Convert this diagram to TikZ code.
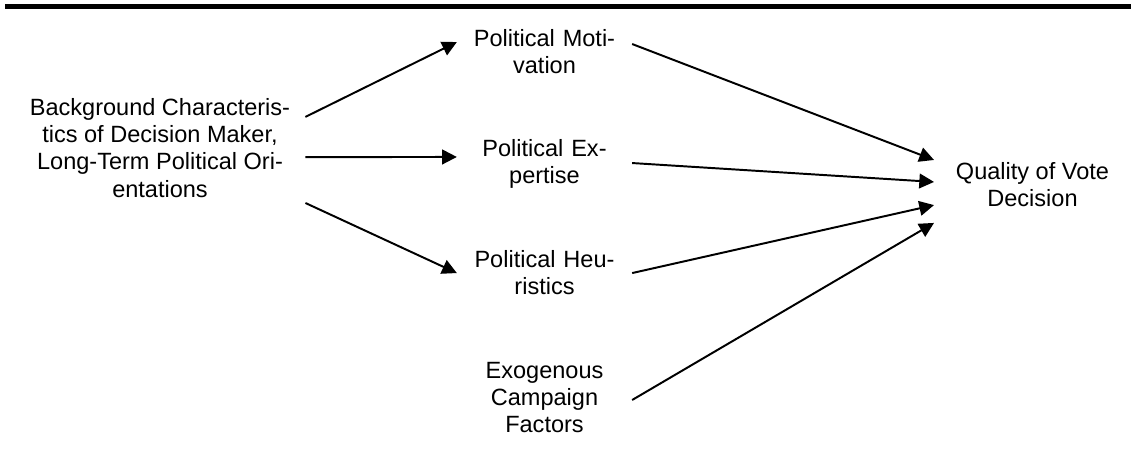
\documentclass[tikz,border=0pt]{standalone}
\usepackage{fontspec}
\setmainfont{Liberation Sans}
\usetikzlibrary{arrows.meta}

\tikzset{
  box/.style={align=center, inner ysep=0pt, font=\fontsize{12pt}{13.8pt}\selectfont,
    execute at begin node=\strut, execute at end node=\strut},
  midbox/.style={box, text width=89pt, inner xsep=0pt},
  arr/.style={-{Triangle[length=7.5pt,width=7.5pt]}, line width=1pt}
}

\begin{document}
\begin{tikzpicture}[x=0.51pt, y=-0.51pt]
        \useasboundingbox (0,0) rectangle (1135,455);

        % Thick rule below the (cut off) caption
        \draw[line width=2.55pt] (5,6.5) -- (1131,6.5);

        % The boxes of the model
        \node[box, inner xsep=7.6pt] (bg) at (160,152) {Background Characteris-\\tics of Decision Maker,\\Long-Term Political Ori-\\entations};
        \node[midbox] (mot) at (544.5,55) {Political Moti-\\vation};
        \node[midbox] (exp) at (544.5,165) {Political Ex-\\pertise};
        \node[midbox] (heu) at (544.5,276) {Political Heu-\\ristics};
        \node[midbox] (exo) at (544.5,400) {Exogenous\\Campaign\\Factors};
        \node[box, inner xsep=11pt] (qual) at (1032.5,189) {Quality of Vote\\Decision};

        % Arrows from the background to the three mediators
        \draw[arr] ([yshift=17.9pt]bg.east) -- ([yshift=6.6pt]mot.west);
        \draw[arr] ([yshift=-2.6pt]bg.east) -- ([yshift=4.1pt]exp.west);
        \draw[arr] ([yshift=-26pt]bg.east) -- ([yshift=1.5pt]heu.west);

        % Arrows into the quality of the vote
        \draw[arr] ([yshift=5.6pt]mot.east) -- ([yshift=14.8pt]qual.west);
        \draw[arr] ([yshift=1pt]exp.east) -- ([yshift=3.6pt]qual.west);
        \draw[arr] ([yshift=1.5pt]heu.east) -- ([yshift=-8.2pt]qual.west);
        \draw[arr] (exo.east) -- ([yshift=-17.3pt]qual.west);
    \end{tikzpicture}
\end{document}
